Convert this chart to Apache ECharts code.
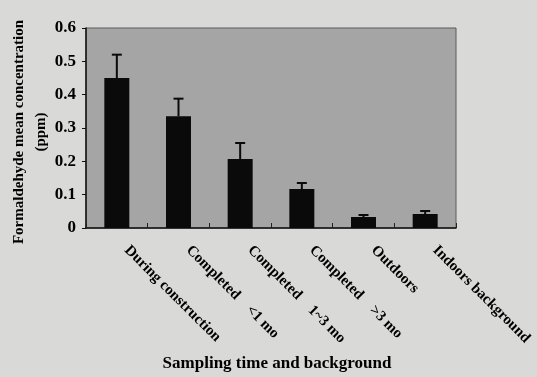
<!DOCTYPE html>
<html><head><meta charset="utf-8">
<script src="https://cdn.jsdelivr.net/npm/echarts@6/dist/echarts.min.js"></script>
<style>html,body{margin:0;padding:0;background:#d9d9d7;}#c{width:537px;height:377px;}</style>
</head><body><div id="c"></div>
<script>
const categories = ['During construction', 'Completed    <1 mo', 'Completed    1~3 mo', 'Completed    >3 mo', 'Outdoors', 'Indoors background'];
const meanValues = [0.45, 0.335, 0.207, 0.117, 0.033, 0.042];
const errorValues = [0.07, 0.053, 0.048, 0.018, 0.006, 0.009];
const yTicks = [0, 0.1, 0.2, 0.3, 0.4, 0.5, 0.6];

const FONT = '"Liberation Serif", "DejaVu Serif", serif';
const chart = echarts.init(document.getElementById('c'), null, {renderer: 'canvas'});
const errData = meanValues.map((v, i) => [i, v, v + errorValues[i]]);

chart.setOption({
  backgroundColor: '#d9d9d7',
  animation: false,
  grid: {left: 86, right: 81, top: 28, bottom: 149, containLabel: false, outerBoundsMode: 'none',
    show: true, backgroundColor: '#a5a5a5', borderColor: '#5a5a5a', borderWidth: 1},
  xAxis: {
    type: 'category', data: categories,
    name: 'Sampling time and background', nameLocation: 'middle', nameGap: 127, nameMoveOverlap: false,
    nameTextStyle: {fontFamily: FONT, fontWeight: 'bold', fontSize: 17, color: '#000', padding: [0, 0, 0, 12]},
    axisLine: {lineStyle: {color: '#111', width: 1.5}},
    axisTick: {show: true, inside: true, length: 5, lineStyle: {color: '#222'}},
    axisLabel: {rotate: -45, margin: 10, padding: [0, 0, 0, 14], fontFamily: FONT, fontWeight: 'bold', fontSize: 15, color: '#000', interval: 0}
  },
  yAxis: {
    type: 'value', min: 0, max: 0.6, interval: 0.1,
    name: 'Formaldehyde mean concentration\n(ppm)', nameLocation: 'middle', nameGap: 34, nameMoveOverlap: false,
    nameTextStyle: {fontFamily: FONT, fontWeight: 'bold', fontSize: 15, color: '#000', lineHeight: 22, padding: [0, 8, 0, 0]},
    axisLine: {show: true, lineStyle: {color: '#111', width: 1.5}},
    axisTick: {show: true, length: 4, lineStyle: {color: '#111'}},
    splitLine: {show: false},
    axisLabel: {margin: 10, fontFamily: FONT, fontWeight: 'bold', fontSize: 17, color: '#000',
      formatter: v => yTicks.includes(Math.round(v * 10) / 10) ? (v === 0 ? '0' : v.toFixed(1)) : ''}
  },
  series: [
    {type: 'bar', data: meanValues, barWidth: 25, itemStyle: {color: '#0a0a0a'}, z: 2},
    {type: 'custom', data: errData, z: 3,
      renderItem: function (params, api) {
        const x = api.value(0);
        const lo = api.coord([x, api.value(1)]);
        const hi = api.coord([x, api.value(2)]);
        const hw = 5;
        const style = {stroke: '#0a0a0a', lineWidth: 2};
        return {type: 'group', children: [
          {type: 'line', shape: {x1: lo[0], y1: lo[1], x2: hi[0], y2: hi[1]}, style: style},
          {type: 'line', shape: {x1: hi[0] - hw, y1: hi[1], x2: hi[0] + hw, y2: hi[1]}, style: style}
        ]};
      }
    }
  ]
});
</script></body></html>
